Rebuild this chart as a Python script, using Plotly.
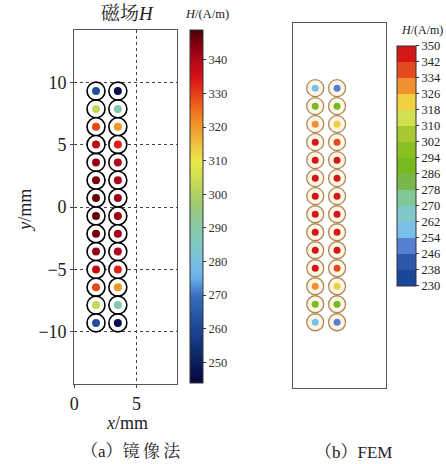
import plotly.graph_objects as go

W, H = 446, 464

# ---- data ----
col_x = [1.75, 3.5]
row_y = [9.30, 7.87, 6.44, 5.01, 3.58, 2.15, 0.72, -0.72, -2.15, -3.58, -5.01, -6.44, -7.87, -9.30]

# (a) image method, H in A/m
mirror_col1 = [262, 303, 329, 338, 343, 346, 347, 347, 346, 343, 338, 329, 303, 262]
mirror_col2 = [246, 288, 320, 333, 340, 341, 342, 342, 341, 340, 333, 320, 288, 246]

# (b) FEM, H in A/m
fem_col1 = [258, 292, 330, 346, 347, 347, 347, 347, 347, 347, 346, 330, 292, 258]
fem_col2 = [250, 292, 322, 338, 346, 347, 347, 347, 347, 346, 338, 322, 292, 250]

left_ticks = [250, 260, 270, 280, 290, 300, 310, 320, 330, 340]
right_ticks = [230, 238, 246, 254, 262, 270, 278, 286, 294, 302, 310, 318, 326, 334, 342, 350]

# ---- styles ----
LCMIN, LCMAX = 243.8, 348.9
left_stops = [
    (243.8, "#06063e"), (250, "#0c1f5c"), (258, "#183f8a"), (265, "#2a5aa8"),
    (270, "#3a70c0"), (275, "#68b0e8"), (280, "#78c0e0"), (285, "#80c8c0"),
    (290, "#88c8a8"), (295, "#98c880"), (300, "#b0d060"), (305, "#d0e050"),
    (310, "#e8e848"), (315, "#f0c040"), (320, "#f09828"), (325, "#f07020"),
    (330, "#e83c18"), (335, "#d81018"), (340, "#b00818"), (345, "#800010"),
    (348.9, "#4a0008"),
]
left_scale = [[(v - LCMIN) / (LCMAX - LCMIN), c] for v, c in left_stops]

band_colors = ["#1a4898", "#3058a8", "#5880d0", "#78c0e8", "#80c8c8", "#80c898",
               "#78b848", "#78b820", "#88c020", "#a8c830", "#d0e050", "#f0d040",
               "#f09030", "#e44a20", "#d41818"]
n = len(band_colors)
right_scale = []
for i, c in enumerate(band_colors):
    right_scale.append([i / n, c])
    right_scale.append([(i + 1) / n, c])

serif = "Liberation Serif, Times New Roman, serif"
cjk = "Noto Serif CJK SC, Noto Sans CJK SC, serif"
mixed = "Liberation Serif, Noto Serif CJK SC, Noto Sans CJK SC, serif"

xs = [col_x[0]] * len(row_y) + [col_x[1]] * len(row_y)
ys = row_y + row_y

fig = go.Figure()

# Left panel rings
fig.add_trace(go.Scatter(
    x=xs, y=ys, mode="markers", xaxis="x", yaxis="y", hoverinfo="skip",
    marker=dict(size=18, color="white", line=dict(color="black", width=1.6)),
    showlegend=False))
fig.add_trace(go.Scatter(
    x=xs, y=ys, mode="markers", xaxis="x", yaxis="y", showlegend=False,
    marker=dict(size=8, color=mirror_col1 + mirror_col2, colorscale=left_scale,
                cmin=LCMIN, cmax=LCMAX,
                colorbar=dict(x=187 / W, xanchor="left", y=1 - 206.5 / H, yanchor="middle",
                              len=353 / H, lenmode="fraction", thickness=13, xpad=0, ypad=0,
                              outlinewidth=1, outlinecolor="#333",
                              ticks="outside", ticklen=3, tickcolor="#333",
                              tickvals=left_ticks,
                              tickfont=dict(family=serif, size=12.5, color="#333"))),
))

# Right panel rings
fig.add_trace(go.Scatter(
    x=xs, y=ys, mode="markers", xaxis="x2", yaxis="y2", hoverinfo="skip",
    marker=dict(size=17, color="#fdf6e6", line=dict(color="#b08858", width=1.3)),
    showlegend=False))
fig.add_trace(go.Scatter(
    x=xs, y=ys, mode="markers", xaxis="x2", yaxis="y2", showlegend=False,
    marker=dict(size=7, color=fem_col1 + fem_col2, colorscale=right_scale,
                cmin=230, cmax=350,
                colorbar=dict(x=396 / W, xanchor="left", y=1 - 165.9 / H, yanchor="middle",
                              len=239.7 / H, lenmode="fraction", thickness=19, xpad=0, ypad=0,
                              outlinewidth=1, outlinecolor="#333",
                              ticks="outside", ticklen=3, tickcolor="#333",
                              tickvals=right_ticks,
                              tickfont=dict(family=serif, size=12.5, color="#222"))),
))

axis_common = dict(showline=True, mirror=True, linecolor="#555", linewidth=1, zeroline=False)

fig.update_layout(
    width=W, height=H, margin=dict(l=0, r=0, t=0, b=0),
    paper_bgcolor="white", plot_bgcolor="white",
    xaxis=dict(domain=[70 / W, 174 / W], range=[0, 8.25], tickvals=[0, 5],
               showgrid=True, griddash="dot", gridcolor="#444", gridwidth=1,
               ticks="outside", ticklen=3, tickcolor="#444",
               tickfont=dict(family=serif, size=18, color="#222"), **axis_common),
    yaxis=dict(domain=[1 - 384 / H, 1 - 30 / H], range=[-14.2, 14.2],
               tickvals=[-10, -5, 0, 5, 10],
               showgrid=True, griddash="dot", gridcolor="#444", gridwidth=1,
               ticks="outside", ticklen=3, tickcolor="#444",
               tickfont=dict(family=serif, size=18, color="#222"), **axis_common),
    xaxis2=dict(domain=[291.7 / W, 385 / W], range=[0, 7.4], showticklabels=False,
                showgrid=False, ticks="", anchor="y2", **axis_common),
    yaxis2=dict(domain=[1 - 387.7 / H, 1 - 22.7 / H], range=[-14.5, 14.5], showticklabels=False,
                showgrid=False, ticks="", anchor="x2", **axis_common),
)

LS = '<span style="font-family:Liberation Serif">'
ann = [
    dict(text="磁场<i>H</i>", x=124 / W, y=1 - 14 / H, size=19, font=mixed, xa="center"),
    dict(text="<i>H</i>/(A/m)", x=204 / W, y=1 - 14 / H, size=12.5, font=serif, xa="center"),
    dict(text="<i>H</i>/(A/m)", x=445 / W, y=1 - 30 / H, size=12, font=serif, xa="right"),
    dict(text="<i>x</i>/mm", x=123 / W, y=1 - 423 / H, size=18, font=serif, xa="center"),
    dict(text="（" + LS + "a</span>）镜\u2009像\u2009法",
         x=127 / W, y=1 - 449 / H, size=17, font=cjk, xa="center"),
    dict(text="（" + LS + "b</span>）" + LS + "FEM</span>",
         x=352 / W, y=1 - 450 / H, size=17, font=cjk, xa="center"),
]
for a in ann:
    fig.add_annotation(text=a["text"], x=a["x"], y=a["y"], xref="paper", yref="paper",
                       xanchor=a["xa"], yanchor="middle", showarrow=False,
                       font=dict(family=a["font"], size=a["size"], color="#222"))
fig.add_annotation(text="<i>y</i>/mm", x=20 / W, y=1 - 210 / H, xref="paper", yref="paper",
                   xanchor="center", yanchor="middle", showarrow=False, textangle=-90,
                   font=dict(family=serif, size=18, color="#222"))

fig.write_html("out.html")
